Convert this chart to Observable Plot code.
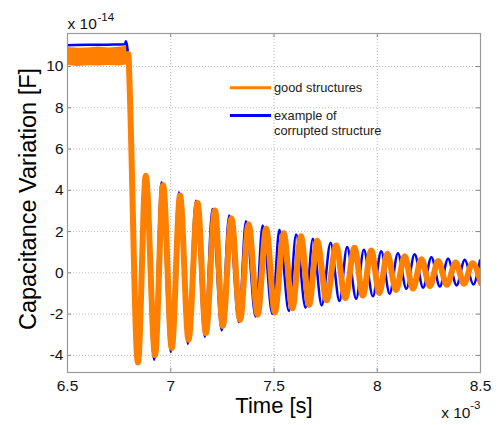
<!DOCTYPE html>
<html><head><meta charset="utf-8">
<script src="https://cdn.jsdelivr.net/npm/d3@7"></script>
<script src="https://cdn.jsdelivr.net/npm/@observablehq/plot@0.6"></script>
<style>body{margin:0;background:#fff;} #chart{width:500px;height:425px;}</style>
</head><body><div id="chart"></div>
<script>
// ticks (time in units of 1e-3 s, capacitance in units of 1e-14 F)
const xTicks = [6.5, 7, 7.5, 8, 8.5];
const yTicks = [-4, -2, 0, 2, 4, 6, 8, 10];
const seriesNames = ["good structures", "example of\ncorrupted structure"];

// good structures (orange): flat band before release
const goodBandT  = [6.5, 6.55, 6.6, 6.65, 6.7, 6.75, 6.795];
const goodBandLo = [10.05, 10.0, 10.04, 10.02, 10.05, 10.03, 10.08];
const goodBandHi = [10.92, 10.88, 10.9, 10.94, 10.9, 10.93, 11.0];
const goodStartT = [6.5, 6.795, 6.800];
const goodStartV = [10.5, 10.6, 9.3];
const goodPeakT = [6.879,6.963,7.045,7.130,7.214,7.294,7.377,7.462,7.547,7.631,7.709,7.801,7.890,7.971,8.049,8.133,8.214,8.295,8.380,8.461];
const goodPeakV = [4.7,4.25,3.75,3.38,3.02,2.65,2.36,2.15,1.92,1.77,1.55,1.32,1.22,1.08,0.92,0.8,0.66,0.58,0.5,0.47];
const goodTroughT = [6.841,6.924,7.005,7.086,7.170,7.252,7.336,7.421,7.504,7.589,7.670,7.755,7.845,7.930,8.010,8.091,8.173,8.255,8.337,8.420,8.502];
const goodTroughV = [-4.35,-3.98,-3.64,-3.24,-2.92,-2.58,-2.28,-2.03,-1.92,-1.72,-1.55,-1.33,-1.22,-1.1,-0.98,-0.83,-0.76,-0.64,-0.58,-0.53,-0.5];

// corrupted structure (blue)
const badStartT = [6.5, 6.6, 6.7, 6.778, 6.783, 6.790];
const badStartV = [11.03, 11.05, 11.06, 11.08, 11.22, 10.9];
const badPeakT = [6.875,6.956,7.040,7.122,7.202,7.283,7.364,7.445,7.526,7.607,7.688,7.774,7.854,7.935,8.019,8.100,8.181,8.262,8.343,8.424,8.497];
const badPeakV = [4.7,4.39,3.9,3.5,3.1,2.78,2.5,2.3,2.09,1.86,1.65,1.46,1.25,1.12,1.05,0.95,0.9,0.76,0.68,0.63,0.6];
const badTroughT = [6.838,6.919,7.000,7.083,7.165,7.247,7.330,7.411,7.492,7.572,7.653,7.731,7.817,7.898,7.979,8.060,8.141,8.222,8.303,8.384,8.465];
const badTroughV = [-4.4,-4.21,-3.84,-3.44,-3.1,-2.79,-2.39,-2.11,-2.0,-1.85,-1.69,-1.58,-1.37,-1.26,-1.14,-1.01,-0.77,-0.72,-0.66,-0.61,-0.56];

const ORANGE = "#ff8000", BLUE = "#0000ff";
const zip = (T, V) => T.map((t, i) => ({t, v: V[i]}));
const goodLine = [...zip(goodStartT, goodStartV), ...zip(goodPeakT, goodPeakV), ...zip(goodTroughT, goodTroughV)].sort((a, b) => a.t - b.t);
const badLine = [...zip(badStartT, badStartV), ...zip(badPeakT, badPeakV), ...zip(badTroughT, badTroughV)].sort((a, b) => a.t - b.t);
const band = goodBandT.map((t, i) => ({t, lo: goodBandLo[i], hi: goodBandHi[i]}));

const X0 = 6.5, X1 = 8.5, Y0 = -4.83, Y1 = 11.6;
const font = "Liberation Sans, Arial, Helvetica, sans-serif";

const chart = Plot.plot({
  width: 500, height: 425,
  marginLeft: 67, marginRight: 20, marginTop: 33, marginBottom: 53,
  x: {domain: [X0, X1]},
  y: {domain: [Y0, Y1]},
  style: {fontFamily: font, background: "#fff", overflow: "visible"},
  marks: [
    Plot.gridX(xTicks, {stroke: "#b8b8b8", strokeOpacity: 1, strokeDasharray: "1,2"}),
    Plot.gridY(yTicks, {stroke: "#b8b8b8", strokeOpacity: 1, strokeDasharray: "1,2"}),
    // inward ticks
    Plot.ruleY(yTicks, {y: d => d, x1: X0, x2: X0 + 0.02, stroke: "#888"}),
    Plot.ruleY(yTicks, {y: d => d, x1: X1 - 0.02, x2: X1, stroke: "#888"}),
    Plot.ruleX(xTicks, {x: d => d, y1: Y0, y2: Y0 + 0.2, stroke: "#888"}),
    Plot.ruleX(xTicks, {x: d => d, y1: Y1 - 0.2, y2: Y1, stroke: "#888"}),
    Plot.axisX(xTicks, {tickSize: 0, tickPadding: 7, fontSize: 15.5, fill: "#111", label: null, tickFormat: d => String(d)}),
    Plot.axisY(yTicks, {tickSize: 0, tickPadding: 4, fontSize: 15.5, fill: "#111", label: null, tickFormat: d => String(d)}),
    // data
    Plot.areaY(band, {x: "t", y1: "lo", y2: "hi", fill: ORANGE, curve: "linear"}),
    Plot.line(badLine, {x: "t", y: "v", stroke: BLUE, strokeWidth: 2.5, curve: "monotone-x", clip: true}),
    Plot.line(goodLine, {x: "t", y: "v", stroke: ORANGE, strokeWidth: 6, curve: "monotone-x", clip: true}),
    Plot.frame({stroke: "#999", strokeWidth: 1.2}),
    // legend
    Plot.ruleY([8.97], {x1: 7.289, x2: 7.488, stroke: ORANGE, strokeWidth: 3}),
    Plot.ruleY([7.63], {x1: 7.289, x2: 7.488, stroke: BLUE, strokeWidth: 3}),
    Plot.text([seriesNames[0]], {x: 7.5, y: 8.96, text: d => d, textAnchor: "start", lineAnchor: "middle", fontSize: 12.8, fill: "#222"}),
    Plot.text([seriesNames[1]], {x: 7.5, y: 7.91, text: d => d, textAnchor: "start", lineAnchor: "top", lineHeight: 1.17, fontSize: 12.8, fill: "#222"}),
    // axis labels
    Plot.text(["Time [s]"], {frameAnchor: "bottom", dy: 33.5, textAnchor: "middle", lineAnchor: "middle", text: d => d, fontSize: 22, fill: "#000"}),
    Plot.text(["Capacitance Variation [F]"], {frameAnchor: "left", dx: -39.5, dy: -4, rotate: -90, textAnchor: "middle", lineAnchor: "middle", text: d => d, fontSize: 23.5, fill: "#000"}),
    // exponents
    Plot.text(["x 10"], {frameAnchor: "top-left", dx: 0, dy: -9.7, textAnchor: "start", lineAnchor: "middle", text: d => d, fontSize: 15.5, fill: "#111"}),
    Plot.text(["-14"], {frameAnchor: "top-left", dx: 30, dy: -16, textAnchor: "start", lineAnchor: "middle", text: d => d, fontSize: 11.5, fill: "#111"}),
    Plot.text(["x 10"], {frameAnchor: "bottom-right", dx: -10, dy: 40.5, textAnchor: "end", lineAnchor: "middle", text: d => d, fontSize: 15.5, fill: "#111"}),
    Plot.text(["-3"], {frameAnchor: "bottom-right", dx: 0, dy: 33, textAnchor: "end", lineAnchor: "middle", text: d => d, fontSize: 11.5, fill: "#111"})
  ]
});
document.getElementById("chart").appendChild(chart);
</script>
</body></html>
